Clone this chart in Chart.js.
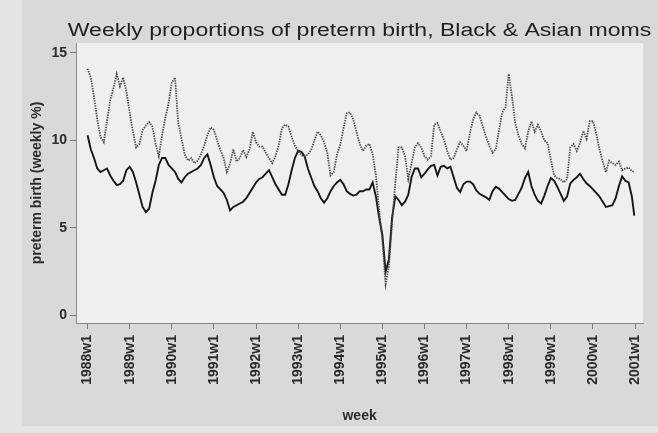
<!DOCTYPE html>
<html>
<head>
<meta charset="utf-8">
<script src="https://cdn.jsdelivr.net/npm/chart.js@4.4.1/dist/chart.umd.min.js"></script>
<style>
  html, body { margin: 0; padding: 0; background: #e3e3e3; }
  #wrap { width: 658px; height: 433px; }
</style>
</head>
<body>
<div id="wrap"><canvas id="chart" width="658" height="433"></canvas></div>
<script>
// chart text
const chartTitle = 'Weekly proportions of preterm birth, Black & Asian moms';
const yTitle = 'preterm birth (weekly %)';
const xTitle = 'week';

// x ticks: week index (0 = 1988w1) and their labels
const tickWeeks = [0, 52, 104, 156, 208, 260, 312, 364, 416, 468, 520, 572, 624, 676];
const tickLabels = ['1988w1', '1989w1', '1990w1', '1991w1', '1992w1', '1993w1', '1994w1',
  '1995w1', '1996w1', '1997w1', '1998w1', '1999w1', '2000w1', '2001w1'];
const yTicks = [0, 5, 10, 15];

// readings every 4 weeks from 1988w1, last one is 2000w52
const weeks = [...Array(169).keys()].map(i => i * 4).concat([675]);

// solid line, weekly %
const solidSeries = [
  10.3, 9.5, 9.0, 8.4, 8.2, 8.3, 8.4, 8.0, 7.7, 7.45, 7.5, 7.7, 8.3,     // 1988
  8.5, 8.2, 7.6, 6.9, 6.2, 5.9, 6.1, 7.0, 7.7, 8.6, 9.0, 9.0, 8.6,       // 1989
  8.4, 8.2, 7.8, 7.6, 7.9, 8.1, 8.2, 8.3, 8.4, 8.6, 9.0, 9.2, 8.6,       // 1990
  7.9, 7.4, 7.2, 7.0, 6.6, 6.0, 6.2, 6.3, 6.4, 6.5, 6.7, 7.0, 7.3,       // 1991
  7.6, 7.8, 7.9, 8.1, 8.3, 7.9, 7.5, 7.2, 6.9, 6.9, 7.5, 8.3, 9.0,       // 1992
  9.4, 9.35, 9.1, 8.4, 7.9, 7.4, 7.1, 6.7, 6.45, 6.7, 7.1, 7.4, 7.6,     // 1993
  7.75, 7.5, 7.1, 6.95, 6.85, 6.9, 7.1, 7.1, 7.2, 7.2, 7.6, 6.8, 5.6,    // 1994
  4.6, 2.5, 3.2, 5.6, 6.8, 6.6, 6.3, 6.5, 6.9, 7.9, 8.4, 8.4, 7.9,       // 1995
  8.1, 8.35, 8.55, 8.6, 8.0, 8.5, 8.55, 8.4, 8.5, 7.9, 7.3, 7.05, 7.5,   // 1996
  7.65, 7.65, 7.5, 7.15, 6.95, 6.85, 6.75, 6.6, 7.1, 7.35, 7.25, 7.05, 6.85, // 1997
  6.65, 6.55, 6.6, 6.95, 7.3, 7.85, 8.2, 7.4, 6.9, 6.55, 6.4, 6.85, 7.4, // 1998
  7.85, 7.7, 7.35, 6.95, 6.55, 6.8, 7.55, 7.75, 7.9, 8.1, 7.8, 7.55, 7.4, // 1999
  7.2, 7.0, 6.8, 6.5, 6.2, 6.25, 6.3, 6.7, 7.4, 7.95, 7.7, 7.6, 6.8,     // 2000
  5.7
];

// dotted line, weekly %
const dottedSeries = [
  14.1, 13.6, 12.5, 11.2, 10.2, 9.9, 11.1, 12.3, 13.0, 13.8, 13.1, 13.6, 12.8,   // 1988
  11.6, 10.5, 9.6, 9.8, 10.6, 10.85, 11.05, 10.8, 9.8, 9.1, 10.3, 11.3, 12.1,    // 1989
  13.3, 13.6, 11.0, 10.1, 9.2, 8.85, 9.0, 8.7, 8.85, 9.2, 9.7, 10.3, 10.75,      // 1990
  10.6, 10.0, 9.45, 9.0, 8.2, 8.7, 9.5, 8.8, 9.0, 9.45, 9.05, 9.5, 10.5,         // 1991
  9.9, 9.65, 9.65, 9.3, 9.0, 8.7, 9.1, 9.7, 10.7, 10.9, 10.8, 10.2, 9.7,         // 1992
  9.4, 9.15, 9.1, 9.2, 9.45, 10.0, 10.5, 10.3, 9.9, 9.3, 8.0, 8.2, 9.2,          // 1993
  9.75, 10.7, 11.55, 11.6, 11.2, 10.5, 9.8, 9.4, 9.7, 9.8, 9.2, 8.0, 6.0,        // 1994
  4.3, 1.8, 2.8, 5.3, 7.6, 9.6, 9.6, 9.1, 7.8, 8.7, 9.6, 9.85, 9.6,              // 1995
  9.1, 8.9, 9.1, 10.9, 11.0, 10.5, 10.05, 9.4, 8.9, 9.0, 9.5, 9.9, 9.7,          // 1996
  9.4, 10.4, 11.2, 11.6, 11.4, 10.8, 10.2, 9.7, 9.3, 9.5, 10.6, 11.6, 11.9,      // 1997
  13.8, 12.5, 11.0, 10.3, 9.8, 9.55, 10.5, 11.1, 10.5, 10.9, 10.5, 10.0, 9.85,   // 1998
  8.9, 8.0, 7.85, 7.8, 7.6, 7.8, 9.6, 9.8, 9.4, 9.85, 10.55, 10.1, 11.1,         // 1999
  11.1, 10.4, 9.5, 8.8, 8.2, 8.85, 8.7, 8.6, 8.8, 8.3, 8.4, 8.45, 8.25,          // 2000
  8.2
];

const axisFont = { family: 'Liberation Sans, Arial, sans-serif', size: 14, weight: 'bold' };
const textColor = '#2b2b2b';

// grey graph region + light plot region, like the Stata scheme
const backdrop = {
  id: 'backdrop',
  beforeDraw(chart) {
    const ctx = chart.ctx, a = chart.chartArea;
    ctx.save();
    ctx.fillStyle = '#e5e5e5';
    ctx.fillRect(0, 0, chart.width, chart.height);
    ctx.fillStyle = '#d9d9d9';
    ctx.fillRect(22, 0, chart.width - 22, 426);
    ctx.fillStyle = '#efefef';
    ctx.fillRect(a.left, a.top, a.right - a.left, a.bottom - a.top);
    ctx.restore();
  }
};

// the title is a bit wide in the picture, so stretch it sideways
const wideTitle = {
  id: 'wideTitle',
  afterDraw(chart) {
    const ctx = chart.ctx;
    ctx.save();
    ctx.translate(359.5, 31);
    ctx.scale(1.28, 1);
    ctx.font = '18px "Liberation Sans", Arial, sans-serif';
    ctx.fillStyle = '#1f1f1f';
    ctx.textAlign = 'center';
    ctx.textBaseline = 'middle';
    ctx.fillText(chartTitle, 0, 0);
    ctx.restore();
  }
};

new Chart(document.getElementById('chart'), {
  type: 'line',
  data: {
    datasets: [
      {
        label: 'dotted',
        data: weeks.map((w, i) => ({ x: w, y: dottedSeries[i] })),
        borderColor: '#4a4a4a',
        borderWidth: 1.8,
        borderDash: [1.4, 1.1],
        pointRadius: 0,
        tension: 0
      },
      {
        label: 'solid',
        data: weeks.map((w, i) => ({ x: w, y: solidSeries[i] })),
        borderColor: '#161616',
        borderWidth: 1.9,
        pointRadius: 0,
        tension: 0
      }
    ]
  },
  options: {
    responsive: false,
    animation: false,
    layout: { padding: { top: 43, right: 7, left: 0, bottom: 0 } },
    plugins: {
      legend: { display: false },
      tooltip: { enabled: false },
      title: { display: false }
    },
    scales: {
      x: {
        type: 'linear',
        min: -14.25,
        max: 686,
        afterBuildTicks: s => { s.ticks = tickWeeks.map(v => ({ value: v })); },
        afterFit: s => { s.height = 110; },
        ticks: {
          autoSkip: false,
          minRotation: 90,
          maxRotation: 90,
          padding: 6,
          color: textColor,
          font: axisFont,
          callback: v => tickLabels[tickWeeks.indexOf(v)]
        },
        grid: { drawOnChartArea: false, tickLength: 6, color: '#7a7a7a' },
        border: { color: '#8a8a8a', width: 1 },
        title: { display: true, text: xTitle, color: textColor, font: axisFont, padding: { top: 0, bottom: 8 } }
      },
      y: {
        min: -0.43,
        max: 15.57,
        afterBuildTicks: s => { s.ticks = yTicks.map(v => ({ value: v })); },
        afterFit: s => { s.width = 76; },
        ticks: { padding: 3, color: textColor, font: axisFont },
        grid: { drawOnChartArea: false, tickLength: 6, color: '#7a7a7a' },
        border: { color: '#8a8a8a', width: 1 },
        title: { display: true, text: yTitle, color: textColor, font: axisFont, padding: { top: 29, bottom: 0 } }
      }
    }
  },
  plugins: [backdrop, wideTitle]
});
</script>
</body>
</html>
